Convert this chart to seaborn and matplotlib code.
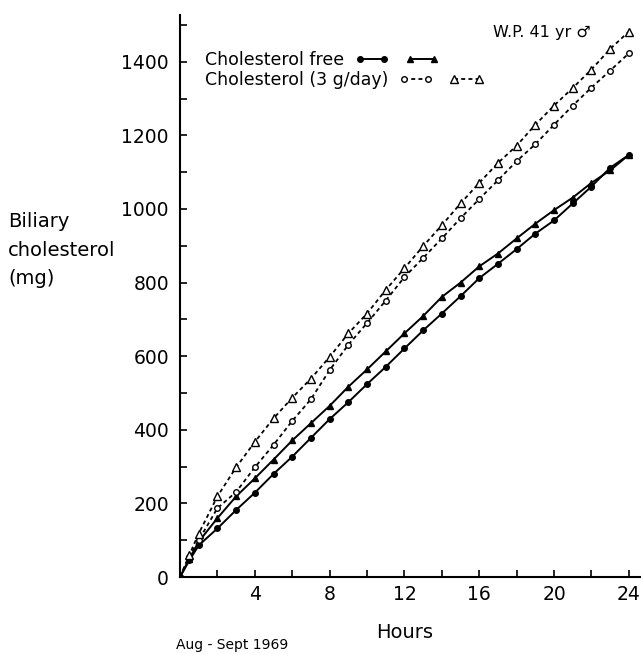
import matplotlib
matplotlib.use("Agg")
import matplotlib.pyplot as plt
from matplotlib.lines import Line2D
from matplotlib.legend import Legend
from matplotlib.legend_handler import HandlerTuple
from matplotlib.ticker import MultipleLocator, FixedLocator
import seaborn as sns

sns.set_style("ticks")
plt.rcParams['font.family'] = ['DejaVu Sans']
plt.rcParams['text.color'] = 'black'

# Hours after start of collection
hours = [0, 0.5, 1, 2, 3, 4, 5, 6, 7, 8, 9, 10, 11, 12,
         13, 14, 15, 16, 17, 18, 19, 20, 21, 22, 23, 24]

# Cholesterol free diet (two runs: dots and triangles)
free_dot = [0, 45, 86, 132, 182, 229, 280, 327, 378, 429, 475, 524, 571, 621,
            670, 716, 763, 812, 851, 891, 933, 969, 1015, 1061, 1112, 1147]
free_tri = [0, 50, 96, 160, 219, 268, 319, 371, 418, 465, 517, 564, 613, 662,
            709, 761, 800, 844, 879, 920, 960, 997, 1031, 1071, 1105, 1147]

# Cholesterol 3 g/day (two runs: open circles and open triangles)
chol_circ = [0, 55, 100, 187, 231, 298, 359, 424, 483, 562, 631, 690, 751, 815,
             867, 920, 975, 1027, 1078, 1130, 1176, 1229, 1281, 1330, 1376, 1423]
chol_tri = [0, 60, 118, 219, 298, 367, 431, 487, 539, 598, 662, 716, 780, 839,
            899, 956, 1015, 1071, 1125, 1172, 1229, 1281, 1329, 1379, 1435, 1482]

x_ticklabels = ["4", "8", "12", "16", "20", "24"]
y_ticklabels = ["0", "200", "400", "600", "800", "1000", "1200", "1400"]

solid = dict(color="black", linestyle="-", linewidth=1.4)
dashed = dict(color="black", linestyle=(0, (2.2, 1.8)), linewidth=1.3)
styles = [
    (free_dot, dict(solid, marker="o", markersize=4, markerfacecolor="black")),
    (free_tri, dict(solid, marker="^", markersize=5, markerfacecolor="black")),
    (chol_circ, dict(dashed, marker="o", markersize=4, markerfacecolor="white")),
    (chol_tri, dict(dashed, marker="^", markersize=6, markerfacecolor="white")),
]

fig = plt.figure(figsize=(6.41, 6.54), dpi=100)
ax = fig.add_axes([0.2808, 0.1177, 0.7192, 0.8593])

for vals, kw in styles:
    sns.lineplot(x=hours, y=vals, ax=ax, markeredgecolor="black",
                 markeredgewidth=1.0, **kw)

ax.set_xlim(0, 24.65)
ax.set_ylim(0, 1527)
ax.xaxis.set_major_locator(FixedLocator([4, 8, 12, 16, 20, 24]))
ax.set_xticklabels(x_ticklabels)
ax.xaxis.set_minor_locator(FixedLocator([2, 6, 10, 14, 18, 22]))
ax.set_yticks(range(0, 1401, 200))
ax.set_yticklabels(y_ticklabels)
ax.yaxis.set_minor_locator(MultipleLocator(100))
ax.set_xlabel("")
ax.set_ylabel("")
ax.tick_params(which="both", direction="in", length=5, width=1.2,
               labelsize=13.5, colors="black")
ax.tick_params(axis="y", pad=8)
ax.tick_params(axis="x", pad=6)
sns.despine(ax=ax)
for s in ["left", "bottom"]:
    ax.spines[s].set_linewidth(1.5)
    ax.spines[s].set_color("black")

# legend: one row each so that the samples follow each label
def legend_row(handles, label, y):
    leg = Legend(ax, [tuple(handles)], [label], loc="upper left",
                 bbox_to_anchor=(205 / 641, y), bbox_transform=fig.transFigure,
                 handler_map={tuple: HandlerTuple(ndivide=None, pad=0.9)},
                 markerfirst=False, numpoints=2, frameon=False,
                 handlelength=4.9, handletextpad=0.6, borderpad=0,
                 borderaxespad=0, fontsize=12.5, labelcolor="black")
    ax.add_artist(leg)

h_dot = Line2D([], [], markeredgecolor="black", **styles[0][1])
h_tri = Line2D([], [], markeredgecolor="black", **styles[1][1])
h_oc = Line2D([], [], markeredgecolor="black", **styles[2][1])
h_ot = Line2D([], [], markeredgecolor="black", **styles[3][1])
legend_row([h_dot, h_tri], "Cholesterol free", 1 - 51 / 654)
legend_row([h_oc, h_ot], "Cholesterol (3 g/day)", 1 - 71 / 654)

fig.text(8 / 641, 1 - 250 / 654, "Biliary\ncholesterol\n(mg)", fontsize=14,
         ha="left", va="center", linespacing=1.65)
fig.text(405 / 641, 1 - 633 / 654, "Hours", fontsize=14, ha="center", va="center")
fig.text(176 / 641, 1 - 645 / 654, "Aug - Sept 1969", fontsize=10,
         ha="left", va="center")
fig.text(493 / 641, 1 - 32 / 654, "W.P. 41 yr \u2642", fontsize=11.5,
         ha="left", va="center")

fig.savefig("out.png", dpi=100)
